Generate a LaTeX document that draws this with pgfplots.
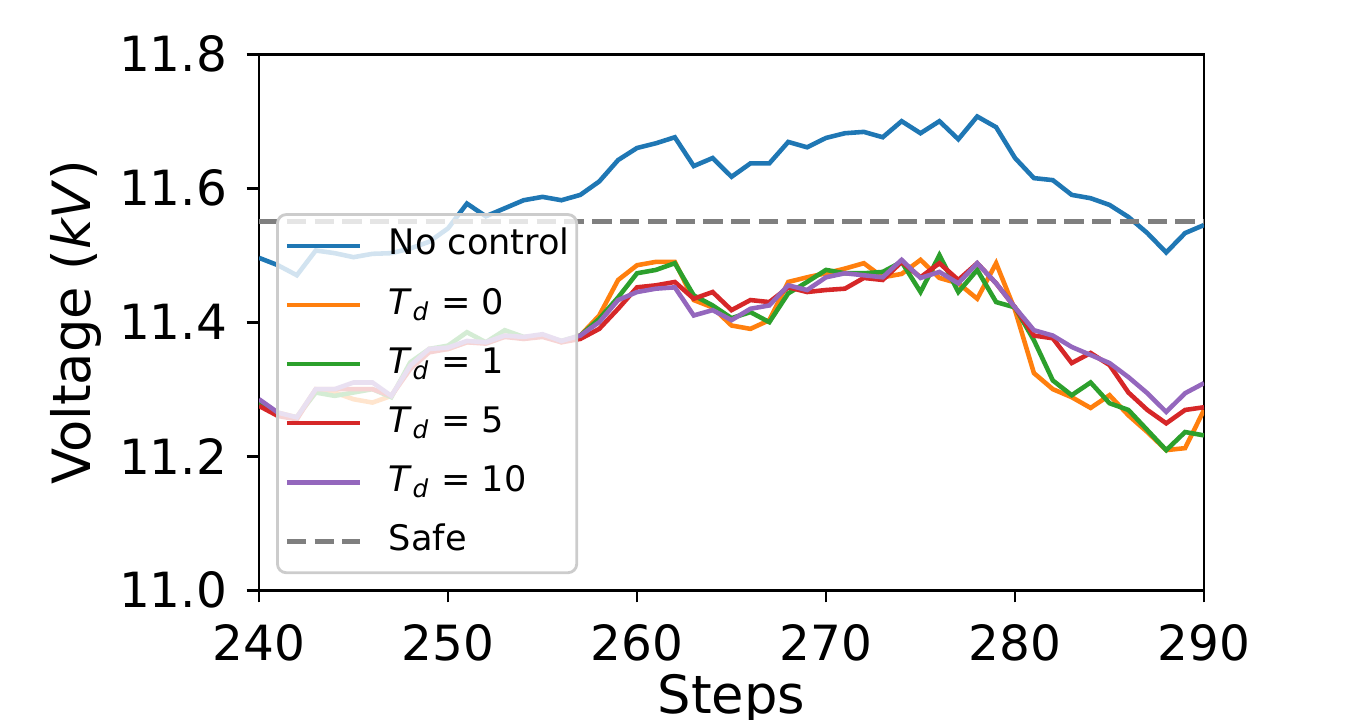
\documentclass[border=0pt]{standalone}
\usepackage{fontspec}
\setmainfont{DejaVu Sans}
\usepackage{pgfplots}
\pgfplotsset{compat=1.18}
\definecolor{c0}{HTML}{1F77B4}
\definecolor{c1}{HTML}{FF7F0E}
\definecolor{c2}{HTML}{2CA02C}
\definecolor{c3}{HTML}{D62728}
\definecolor{c4}{HTML}{9467BD}
\definecolor{c7}{HTML}{7F7F7F}
\begin{document}
\begin{tikzpicture}
\useasboundingbox (-73.7pt,-36.7pt) rectangle (311.8pt,167.9pt);
\begin{axis}[
  at={(0pt,0pt)}, anchor=south west,
  scale only axis, width=268.85pt, height=152.5pt,
  xmin=240, xmax=290, ymin=11.0, ymax=11.8,
  xtick={240,250,260,270,280,290},
  ytick={11.0,11.2,11.4,11.6,11.8},
  tick pos=left, tick align=outside, major tick length=3.5pt,
  tick style={black, line width=0.8pt},
  axis line style={line width=0.8pt},
  /pgf/number format/assume math mode=true,
  ticklabel style={font=\fontsize{13.8}{16}\selectfont},
  xticklabel style={inner sep=0pt, yshift=-6.0pt},
  yticklabel style={inner sep=0pt, xshift=-5.4pt, /pgf/number format/.cd, fixed, fixed zerofill, precision=1},
  xlabel={Steps},
  ylabel={Voltage (\textit{kV})},
  xlabel style={font=\fontsize{15}{18}\selectfont, at={(axis description cs:0.5,-0.155)}, anchor=north, inner sep=0pt},
  ylabel style={font=\fontsize{15}{18}\selectfont, at={(axis description cs:-0.2213,0.5)}, anchor=north, inner sep=0pt},
  legend style={at={(axis description cs:0.018,0.7034)}, anchor=north west,
    font=\fontsize{10}{12}\selectfont, fill=white, fill opacity=0.8, text opacity=1,
    draw=black!20, line width=0.8pt, rounded corners=2.5pt,
    inner xsep=2pt, inner ysep=4.2pt, row sep=7.3pt, column sep=7.6pt,
    nodes={inner sep=0pt, text height=7.3pt, text depth=2.2pt}},
  legend cell align=left,
  legend image code/.code={\draw[#1] (0pt,0pt) -- (20.8pt,0pt);},
]
\addplot[c0, line width=1.3pt] coordinates {
(240,11.496) (241,11.485) (242,11.47) (243,11.507) (244,11.503) (245,11.497) (246,11.502) (247,11.503) (248,11.51) (249,11.52) (250,11.54)
(251,11.577) (252,11.558) (253,11.57) (254,11.582) (255,11.587) (256,11.582) (257,11.59) (258,11.61) (259,11.642) (260,11.66)
(261,11.667) (262,11.676) (263,11.633) (264,11.645) (265,11.617) (266,11.637) (267,11.637) (268,11.669) (269,11.661) (270,11.675)
(271,11.682) (272,11.684) (273,11.676) (274,11.70) (275,11.682) (276,11.70) (277,11.673) (278,11.707) (279,11.691) (280,11.645)
(281,11.615) (282,11.612) (283,11.59) (284,11.585) (285,11.575) (286,11.557) (287,11.533) (288,11.504) (289,11.533) (290,11.545)};
\addlegendentry{No control}
\addplot[c1, line width=1.3pt] coordinates {
(240,11.28) (241,11.265) (242,11.258) (243,11.30) (244,11.295) (245,11.285) (246,11.28) (247,11.29) (248,11.335) (249,11.36) (250,11.36)
(251,11.37) (252,11.37) (253,11.38) (254,11.375) (255,11.38) (256,11.37) (257,11.38) (258,11.41) (259,11.463) (260,11.485)
(261,11.49) (262,11.49) (263,11.433) (264,11.422) (265,11.395) (266,11.39) (267,11.403) (268,11.46) (269,11.467) (270,11.473)
(271,11.48) (272,11.488) (273,11.467) (274,11.472) (275,11.493) (276,11.466) (277,11.458) (278,11.435) (279,11.488) (280,11.418)
(281,11.324) (282,11.30) (283,11.288) (284,11.272) (285,11.291) (286,11.261) (287,11.236) (288,11.209) (289,11.212) (290,11.269)};
\addlegendentry{\textit{T}\textsubscript{\textit{d}} = 0}
\addplot[c2, line width=1.3pt] coordinates {
(240,11.28) (241,11.262) (242,11.258) (243,11.295) (244,11.29) (245,11.295) (246,11.30) (247,11.288) (248,11.34) (249,11.36) (250,11.365)
(251,11.385) (252,11.37) (253,11.388) (254,11.378) (255,11.38) (256,11.372) (257,11.38) (258,11.405) (259,11.437) (260,11.473)
(261,11.478) (262,11.488) (263,11.44) (264,11.425) (265,11.406) (266,11.415) (267,11.40) (268,11.443) (269,11.46) (270,11.478)
(271,11.473) (272,11.473) (273,11.475) (274,11.49) (275,11.445) (276,11.50) (277,11.445) (278,11.478) (279,11.43) (280,11.422)
(281,11.373) (282,11.313) (283,11.291) (284,11.31) (285,11.279) (286,11.269) (287,11.239) (288,11.209) (289,11.236) (290,11.231)};
\addlegendentry{\textit{T}\textsubscript{\textit{d}} = 1}
\addplot[c3, line width=1.3pt] coordinates {
(240,11.275) (241,11.26) (242,11.255) (243,11.30) (244,11.30) (245,11.30) (246,11.30) (247,11.29) (248,11.33) (249,11.355) (250,11.36)
(251,11.37) (252,11.368) (253,11.378) (254,11.375) (255,11.378) (256,11.37) (257,11.375) (258,11.39) (259,11.42) (260,11.452)
(261,11.455) (262,11.46) (263,11.435) (264,11.445) (265,11.418) (266,11.433) (267,11.43) (268,11.452) (269,11.445) (270,11.448)
(271,11.45) (272,11.466) (273,11.463) (274,11.49) (275,11.467) (276,11.488) (277,11.463) (278,11.488) (279,11.458) (280,11.422)
(281,11.38) (282,11.376) (283,11.339) (284,11.354) (285,11.336) (286,11.295) (287,11.269) (288,11.249) (289,11.269) (290,11.273)};
\addlegendentry{\textit{T}\textsubscript{\textit{d}} = 5}
\addplot[c4, line width=1.3pt] coordinates {
(240,11.285) (241,11.265) (242,11.258) (243,11.30) (244,11.30) (245,11.31) (246,11.31) (247,11.29) (248,11.335) (249,11.36) (250,11.362)
(251,11.372) (252,11.37) (253,11.38) (254,11.378) (255,11.382) (256,11.372) (257,11.38) (258,11.40) (259,11.433) (260,11.445)
(261,11.45) (262,11.452) (263,11.41) (264,11.418) (265,11.403) (266,11.42) (267,11.425) (268,11.455) (269,11.448) (270,11.467)
(271,11.473) (272,11.47) (273,11.467) (274,11.493) (275,11.466) (276,11.475) (277,11.458) (278,11.488) (279,11.458) (280,11.422)
(281,11.388) (282,11.38) (283,11.363) (284,11.351) (285,11.339) (286,11.318) (287,11.294) (288,11.266) (289,11.294) (290,11.309)};
\addlegendentry{\textit{T}\textsubscript{\textit{d}} = 10}
\addplot[c7, line width=1.3pt, dash pattern=on 5.5pt off 2.4pt] coordinates {(240,11.55) (290,11.55)};
\addlegendentry{Safe}
\end{axis}
\end{tikzpicture}
\end{document}
